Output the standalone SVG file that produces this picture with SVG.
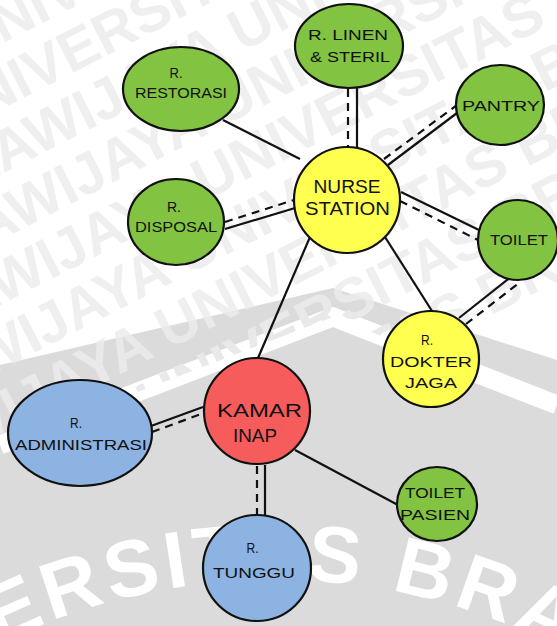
<svg xmlns="http://www.w3.org/2000/svg" width="557" height="626" viewBox="0 0 557 626">
<style>
.bg{fill:#ffffff}
.roof{fill:#dbdbdb}
.band{fill:none;stroke:#ffffff;stroke-width:19;stroke-linejoin:miter}
.wm{font-family:"Liberation Sans",Arial,sans-serif;font-weight:bold;font-size:58px}
.wm2{font-family:"Liberation Sans",Arial,sans-serif;font-weight:bold;font-size:80px;fill:#ffffff;letter-spacing:5px}
.n{stroke:#111111;stroke-width:2.2}
.g{fill:#82c341}
.y{fill:#ffff4f}
.r{fill:#f65c5c}
.b{fill:#8db3e2}
.lbl{font-family:"Liberation Sans",Arial,sans-serif;font-size:15px;fill:#111111;text-anchor:middle}
.big{font-size:18px}
.solid{stroke:#111111;stroke-width:2.2;fill:none}
.dash{stroke:#111111;stroke-width:2.2;fill:none;stroke-dasharray:8 6}
</style>
<defs>
<clipPath id="top"><polygon points="0,0 557,0 557,360 333,288 0,365"/></clipPath>
<clipPath id="outer"><polygon points="0,365 333,288 557,360 557,405 333,317 0,445"/></clipPath>
<path id="arc" d="M -261 889 A 619 619 0 0 1 811 889"/>
<g id="wmrows" transform="rotate(-27 0 0)">
<text class="wm" x="-60" y="40">UNIVERSITAS BRAWIJAYA UNIVERSITAS</text>
<text class="wm" x="-110" y="98">UNIVERSITAS BRAWIJAYA UNIVERSITAS</text>
<text class="wm" x="-160" y="156">BRAWIJAYA UNIVERSITAS BRAWIJAYA</text>
<text class="wm" x="-210" y="214">BRAWIJAYA UNIVERSITAS BRAWIJAYA</text>
<text class="wm" x="-260" y="272">BRAWIJAYA UNIVERSITAS BRAWIJAYA</text>
<text class="wm" x="-310" y="330">BRAWIJAYA UNIVERSITAS BRAWIJAYA</text>
<text class="wm" x="-360" y="388">BRAWIJAYA UNIVERSITAS BRAWIJAYA</text>
<text class="wm" x="-410" y="446">BRAWIJAYA UNIVERSITAS BRAWIJAYA</text>
<text class="wm" x="-460" y="504">BRAWIJAYA UNIVERSITAS BRAWIJAYA</text>
</g>
</defs>
<rect class="bg" x="0" y="0" width="557" height="626"/>
<g id="background">
<polygon class="roof" points="0,365 333,288 557,360 557,626 0,626"/>
<polyline class="band" points="0,445 333,317 557,405"/>
<use href="#wmrows" clip-path="url(#top)" fill="#efefef"/>
<use href="#wmrows" clip-path="url(#outer)" fill="#e9e9e9"/>
<text class="wm2"><textPath href="#arc" startOffset="150">UNIVERSITAS BRAWIJAYA</textPath></text>
</g>
<g id="connectors">
<line class="solid" x1="223" y1="120" x2="300" y2="159"/>
<line class="solid" x1="357" y1="88" x2="357" y2="148"/>
<line class="dash" x1="348" y1="89" x2="348" y2="148"/>
<line class="solid" x1="388" y1="165" x2="457" y2="113"/>
<line class="dash" x1="384" y1="159" x2="457" y2="105"/>
<line class="solid" x1="401" y1="192" x2="479" y2="230"/>
<line class="dash" x1="400" y1="201" x2="478" y2="240"/>
<line class="solid" x1="225" y1="229" x2="295" y2="208"/>
<line class="dash" x1="225" y1="222" x2="294" y2="200"/>
<line class="solid" x1="385" y1="237" x2="432" y2="311"/>
<line class="solid" x1="310" y1="237" x2="258" y2="358"/>
<line class="solid" x1="459" y1="318" x2="512" y2="276"/>
<line class="dash" x1="466" y1="324" x2="519" y2="283"/>
<line class="solid" x1="151" y1="426" x2="203" y2="407"/>
<line class="dash" x1="152" y1="432" x2="204" y2="413"/>
<line class="solid" x1="265" y1="465" x2="265" y2="516"/>
<line class="dash" x1="257" y1="466" x2="257" y2="516"/>
<line class="solid" x1="295" y1="450" x2="398" y2="505"/>
</g>
<g id="r-linen-steril">
<ellipse class="n g" cx="349" cy="46" rx="54" ry="42"/>
<text class="lbl" x="348" y="40" textLength="80" lengthAdjust="spacingAndGlyphs">R. LINEN</text>
<text class="lbl" x="350" y="62" textLength="80" lengthAdjust="spacingAndGlyphs">&amp; STERIL</text>
</g>
<g id="pantry">
<ellipse class="n g" cx="500" cy="105" rx="44" ry="40"/>
<text class="lbl" x="501" y="111" textLength="78" lengthAdjust="spacingAndGlyphs">PANTRY</text>
</g>
<g id="nurse-station">
<circle class="n y" cx="347" cy="200" r="53"/>
<text class="lbl big" x="347" y="193" textLength="67" lengthAdjust="spacingAndGlyphs">NURSE</text>
<text class="lbl big" x="347.5" y="215" textLength="85" lengthAdjust="spacingAndGlyphs">STATION</text>
</g>
<g id="toilet">
<ellipse class="n g" cx="518" cy="240" rx="40" ry="40"/>
<text class="lbl" x="519" y="245" textLength="58" lengthAdjust="spacingAndGlyphs">TOILET</text>
</g>
<g id="r-restorasi">
<ellipse class="n g" cx="181" cy="89" rx="58" ry="42"/>
<text class="lbl" x="176" y="78" textLength="13" lengthAdjust="spacingAndGlyphs">R.</text>
<text class="lbl" x="181" y="98" textLength="92" lengthAdjust="spacingAndGlyphs">RESTORASI</text>
</g>
<g id="r-disposal">
<ellipse class="n g" cx="176" cy="222" rx="48" ry="43"/>
<text class="lbl" x="174" y="212" textLength="14" lengthAdjust="spacingAndGlyphs">R.</text>
<text class="lbl" x="176" y="232" textLength="82" lengthAdjust="spacingAndGlyphs">DISPOSAL</text>
</g>
<g id="r-dokter-jaga">
<circle class="n y" cx="431" cy="359" r="48"/>
<text class="lbl" x="427" y="345" textLength="12" lengthAdjust="spacingAndGlyphs">R.</text>
<text class="lbl" x="431" y="367" textLength="82" lengthAdjust="spacingAndGlyphs">DOKTER</text>
<text class="lbl" x="431" y="388" textLength="52" lengthAdjust="spacingAndGlyphs">JAGA</text>
</g>
<g id="kamar-inap">
<circle class="n r" cx="257" cy="411" r="53"/>
<text class="lbl big" x="259.5" y="417" textLength="85" lengthAdjust="spacingAndGlyphs">KAMAR</text>
<text class="lbl big" x="255" y="442" textLength="44" lengthAdjust="spacingAndGlyphs">INAP</text>
</g>
<g id="r-administrasi">
<ellipse class="n b" cx="80" cy="433" rx="72" ry="53"/>
<text class="lbl" x="76" y="428" textLength="12" lengthAdjust="spacingAndGlyphs">R.</text>
<text class="lbl" x="81" y="450" textLength="132" lengthAdjust="spacingAndGlyphs">ADMINISTRASI</text>
</g>
<g id="r-tunggu">
<ellipse class="n b" cx="257" cy="568" rx="54" ry="53"/>
<text class="lbl" x="252.5" y="553" textLength="12" lengthAdjust="spacingAndGlyphs">R.</text>
<text class="lbl" x="254" y="578" textLength="82" lengthAdjust="spacingAndGlyphs">TUNGGU</text>
</g>
<g id="toilet-pasien">
<ellipse class="n g" cx="437" cy="504" rx="40" ry="37"/>
<text class="lbl" x="435" y="498" textLength="60" lengthAdjust="spacingAndGlyphs">TOILET</text>
<text class="lbl" x="435" y="520" textLength="70" lengthAdjust="spacingAndGlyphs">PASIEN</text>
</g>
</svg>
